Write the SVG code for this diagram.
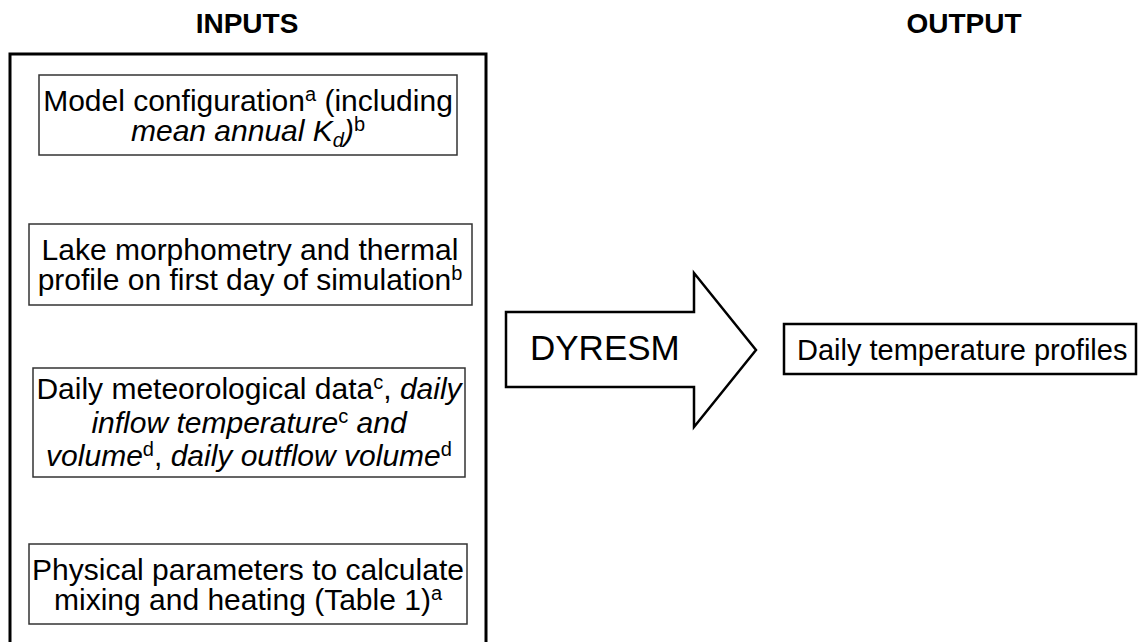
<svg xmlns="http://www.w3.org/2000/svg" width="1138" height="642" viewBox="0 0 1138 642">
<style>
text{font-family:"Liberation Sans",Arial,sans-serif;fill:#000}
.h{font-weight:bold;font-size:28px}
.t{font-size:30px;text-anchor:middle}
.s{font-size:20px}
.i{font-style:italic}
.ib{fill:#fff;stroke:#333;stroke-width:1.5}
</style>
<rect width="1138" height="642" fill="#fff"/>
<g id="headers">
<text class="h" x="247" y="33" text-anchor="middle">INPUTS</text>
<text class="h" x="964" y="33" text-anchor="middle">OUTPUT</text>
</g>
<g id="inputs-frame">
<rect x="10" y="54" width="476" height="700" fill="none" stroke="#000" stroke-width="3"/>
</g>
<g id="box-model-config">
<rect class="ib" x="39" y="75" width="418" height="80"/>
<text class="t" x="248" y="111">Model configuration<tspan class="s" dy="-10">a</tspan><tspan dy="10"> (including</tspan></text>
<text class="t i" x="248" y="141">mean annual K<tspan class="s" dy="6">d</tspan><tspan dy="-6">)</tspan><tspan class="s" dy="-10" font-style="normal">b</tspan></text>
</g>
<g id="box-lake">
<rect class="ib" x="29" y="224" width="443" height="81"/>
<text class="t" x="250" y="260">Lake morphometry and thermal</text>
<text class="t" x="250" y="290">profile on first day of simulation<tspan class="s" dy="-10">b</tspan></text>
</g>
<g id="box-meteo">
<rect class="ib" x="33" y="368" width="432" height="109"/>
<text class="t" x="249" y="399">Daily meteorological data<tspan class="s" dy="-10">c</tspan><tspan dy="10">, </tspan><tspan class="i">daily</tspan></text>
<text class="t i" x="249" y="433">inflow temperature<tspan class="s" dy="-10" font-style="normal">c</tspan><tspan dy="10"> and</tspan></text>
<text class="t" x="249" y="466"><tspan class="i">volume</tspan><tspan class="s" dy="-10">d</tspan><tspan dy="10">, </tspan><tspan class="i">daily outflow volume</tspan><tspan class="s" dy="-10">d</tspan></text>
</g>
<g id="box-physical">
<rect class="ib" x="29" y="544" width="438" height="80"/>
<text class="t" x="248" y="580">Physical parameters to calculate</text>
<text class="t" x="248" y="610">mixing and heating (Table 1)<tspan class="s" dy="-10">a</tspan></text>
</g>
<g id="connectors">
<g id="dyresm-arrow">
<polygon points="506,312 694,312 694,273 756,350 694,427 694,387 506,387" fill="#fff" stroke="#000" stroke-width="2.5" stroke-linejoin="miter"/>
<text x="530" y="360" font-size="35">DYRESM</text>
</g>
</g>
<g id="output-box">
<rect x="784" y="324" width="352" height="50" fill="#fff" stroke="#000" stroke-width="2.5"/>
<text x="797" y="360" font-size="29">Daily temperature profiles</text>
</g>
</svg>
